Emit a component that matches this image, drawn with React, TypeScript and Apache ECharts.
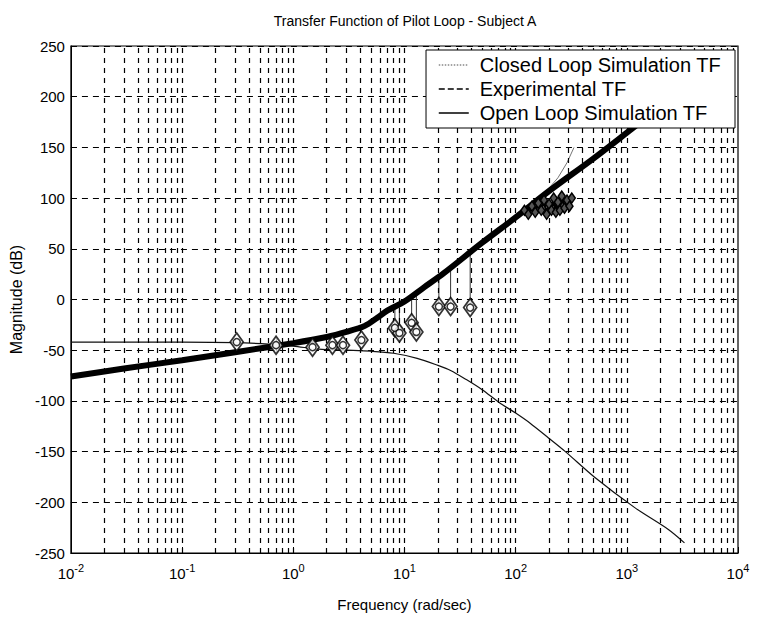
import React, { useEffect, useRef } from 'react';
import * as echarts from 'echarts';

const FONT = "'Liberation Sans', Arial, sans-serif";

const titleText = 'Transfer Function of Pilot Loop - Subject A';
const xAxisName = 'Frequency (rad/sec)';
const yAxisName = 'Magnitude (dB)';
const legendNames = ['Closed Loop Simulation TF', 'Experimental TF', 'Open Loop Simulation TF'];

// Closed loop simulation (thin curve)
const clFreq = [0.01, 0.1, 0.3, 0.6, 1, 1.7, 3, 5, 8, 13, 20, 26, 36, 50, 72, 100, 135, 200, 280, 510, 1170, 2380, 3300];
const clMag = [-42, -42, -42.5, -44, -46, -49, -50, -51, -53, -58, -65, -70, -79, -89, -102, -112, -122, -137, -150, -175, -205, -227, -240];

// Open loop simulation (thick curve)
const olFreq = [0.01, 0.03, 0.1, 0.3, 1, 2, 3, 4.4, 5.7, 7, 10, 15, 22.6, 50, 100, 200, 500, 1100, 3000, 5000];
const olMag = [-76, -68, -60, -52, -43, -37, -32, -26, -18, -11, -2, 12, 26, 56, 81, 107, 139, 168, 205, 223];

// Experimental points (markers)
const expFreq = [0.31, 0.7, 1.49, 2.25, 2.8, 4.1, 8.2, 9.0, 11.6, 12.8, 20.4, 26, 39];
const expMag = [-42, -45, -47, -45, -45, -40, -28, -33, -23, -32, -7, -7, -8];

// Experimental stems (from marker up to open loop curve)
const stemFreq = [8.2, 9.0, 11.6, 12.8, 20.4, 26, 39];
const stemLow = [-28, -33, -23, -32, -7, -7, -8];
const stemHigh = [-8, -5, 3, 6, 22, 30, 46];

// Experimental high-frequency cluster
const clusterFreq = [120, 130, 140, 150, 160, 170, 180, 190, 200, 210, 220, 230, 240, 250, 260, 275, 290, 305, 320];
const clusterMag = [88, 84, 92, 86, 95, 88, 98, 84, 94, 88, 100, 86, 96, 88, 102, 90, 98, 92, 100];

// Gray spike near 200-330 rad/s
const spikeFreq = [193, 240, 290, 335];
const spikeMag = [108, 120, 135, 150];

const decadeStarts = [0.01, 0.1, 1, 10, 100, 1000];
const gridMultipliers = [1, 2, 3, 4, 5, 6, 7, 8, 9];

const zip = (a: number[], b: number[]) => a.map((v, i) => [v, b[i]]);

export default function App() {
  const ref = useRef<HTMLDivElement>(null);
  useEffect(() => {
    if (!ref.current) return;
    const chart = echarts.init(ref.current, undefined, { renderer: 'svg' });

    const vGrid: number[] = [];
    decadeStarts.forEach((d) => gridMultipliers.forEach((m) => {
      const v = d * m;
      if (v > 0.0100001) vGrid.push(v);
    }));

    const stemData: any[] = [];
    stemFreq.forEach((f, i) => {
      stemData.push([f, stemLow[i]]);
      stemData.push([f, stemHigh[i]]);
      stemData.push([f, '-']);
    });

    const hLine = { color: '#000', width: 1.2, type: [6, 5] as any };
    const vLine = { color: '#000', width: 1.2, type: [5, 5] as any };
    const hidden = { opacity: 0 };

    const option: any = {
      animation: false,
      backgroundColor: '#fff',
      title: {
        text: titleText,
        left: 400,
        top: 9,
        textAlign: 'center',
        textStyle: { fontFamily: FONT, fontSize: 14, fontWeight: 'normal', color: '#000' },
      },
      legend: {
        data: [
          { name: legendNames[0], itemStyle: hidden, lineStyle: { color: '#888', type: 'dotted', width: 1.5 } },
          { name: legendNames[1], itemStyle: hidden, lineStyle: { color: '#000', type: 'dashed', width: 1.5 } },
          { name: legendNames[2], itemStyle: hidden, lineStyle: { color: '#000', type: 'solid', width: 1.5 } },
        ],
        orient: 'vertical',
        right: 24,
        top: 50,
        z: 20,
        padding: [5, 14, 5, 12],
        itemGap: 4,
        itemWidth: 30,
        itemHeight: 20,
        backgroundColor: '#fff',
        borderColor: '#000',
        borderWidth: 1,
        borderRadius: 0,
        textStyle: { fontFamily: FONT, fontSize: 20, color: '#000', padding: [0, 0, 0, 6] },
      },
      grid: {
        left: 62, right: 21, top: 46, bottom: 66,
        show: true, borderColor: '#000', borderWidth: 1.2, backgroundColor: 'transparent',
      },
      xAxis: {
        type: 'log',
        logBase: 10,
        min: 0.01,
        max: 10000,
        splitNumber: 6,
        name: xAxisName,
        nameLocation: 'middle',
        nameGap: 44,
        nameTextStyle: { fontFamily: FONT, fontSize: 15, color: '#000' },
        axisLine: { show: true, onZero: false, lineStyle: { color: '#000' } },
        axisTick: { show: true, inside: true, length: 6, lineStyle: { color: '#000' } },
        splitLine: { show: false },
        axisLabel: {
          margin: 9,
          color: '#000',
          formatter: (v: number) => {
            const e = Math.round(Math.log10(v));
            return '{b|10}{s|' + e + '}';
          },
          rich: {
            b: { fontFamily: FONT, fontSize: 15, color: '#000' },
            s: { fontFamily: FONT, fontSize: 11, color: '#000', verticalAlign: 'bottom', padding: [0, 0, 11, 0] },
          },
        },
      },
      yAxis: {
        type: 'value',
        min: -250,
        max: 250,
        interval: 50,
        name: yAxisName,
        nameLocation: 'middle',
        nameGap: 38,
        nameRotate: 90,
        nameTextStyle: { fontFamily: FONT, fontSize: 16, color: '#000' },
        axisLine: { show: true, onZero: false, lineStyle: { color: '#000' } },
        axisTick: { show: true, inside: true, length: 6, lineStyle: { color: '#000' } },
        axisLabel: { fontFamily: FONT, fontSize: 15, color: '#000', margin: 6 },
        splitLine: { show: true, lineStyle: hLine },
      },
      series: [
        {
          name: 'grid-v',
          type: 'line',
          data: [],
          silent: true,
          markLine: {
            silent: true,
            symbol: ['none', 'none'],
            label: { show: false },
            lineStyle: vLine,
            emphasis: { disabled: true },
            data: vGrid.map((v) => ({ xAxis: v })),
          },
        },
        {
          name: legendNames[0],
          type: 'line',
          data: zip(clFreq, clMag),
          symbol: 'none',
          smooth: 0.3,
          lineStyle: { color: '#111', width: 1.2 },
          itemStyle: { color: '#111' },
          z: 3,
        },
        {
          name: 'spike',
          type: 'line',
          data: zip(spikeFreq, spikeMag),
          symbol: 'none',
          lineStyle: { color: '#777', width: 1 },
          z: 3,
        },
        {
          name: legendNames[1],
          type: 'line',
          data: stemData,
          symbol: 'none',
          connectNulls: false,
          lineStyle: { color: '#333', width: 1 },
          itemStyle: { color: '#000' },
          z: 3,
        },
        {
          name: legendNames[2],
          type: 'line',
          data: zip(olFreq, olMag),
          symbol: 'none',
          smooth: 0.3,
          lineStyle: { color: '#000', width: 6 },
          itemStyle: { color: '#000' },
          z: 4,
        },
        {
          name: 'cluster',
          type: 'line',
          data: zip(clusterFreq, clusterMag),
          symbol: 'diamond',
          symbolSize: [7, 10],
          lineStyle: { color: '#000', width: 2.5 },
          itemStyle: { color: '#555', borderColor: '#000', borderWidth: 1.5 },
          z: 5,
        },
        {
          name: 'markers',
          type: 'scatter',
          data: zip(expFreq, expMag),
          symbol: 'diamond',
          symbolSize: [13, 18],
          itemStyle: { color: '#fff', borderColor: '#000', borderWidth: 1.8 },
          z: 6,
        },
        {
          name: 'markers-inner',
          type: 'scatter',
          data: zip(expFreq, expMag),
          symbol: 'circle',
          symbolSize: 7,
          itemStyle: { color: '#fff', borderColor: '#000', borderWidth: 1.5 },
          z: 7,
        },
      ],
    };
    chart.setOption(option);
    return () => chart.dispose();
  }, []);
  return <div ref={ref} style={{ position: 'fixed', left: 0, top: 0, width: 759, height: 619 }} />;
}
